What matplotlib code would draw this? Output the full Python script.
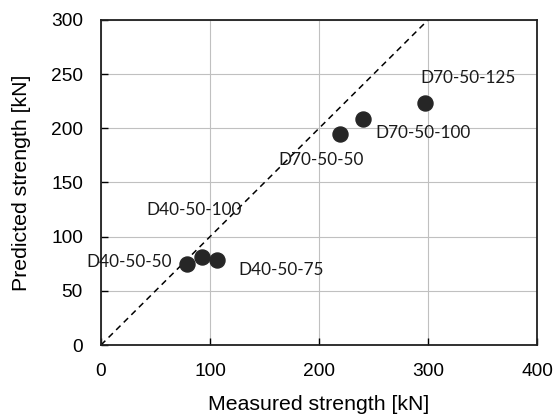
import matplotlib
matplotlib.use("Agg")
import matplotlib.pyplot as plt

measured = [78.5, 92.5, 106, 219, 240, 297]
predicted = [75, 81.5, 78.5, 194.5, 209, 223.5]
labels = ["D40-50-50", "D40-50-100", "D40-50-75", "D70-50-50", "D70-50-100", "D70-50-125"]
label_x = [25.7, 85.8, 165, 202, 295, 337]
label_y = [76.6, 124.6, 69, 171, 196, 246.5]
xticks = [0, 100, 200, 300, 400]
yticks = [0, 50, 100, 150, 200, 250, 300]

fig = plt.figure(figsize=(5.57, 4.19), dpi=100)
ax = fig.add_axes([0.1813, 0.1766, 0.9641 - 0.1813, 0.9523 - 0.1766])
ax.set_xlim(0, 400)
ax.set_ylim(0, 300)
ax.set_xticks(xticks)
ax.set_yticks(yticks)
ax.grid(True, color="#c0c0c0", linewidth=0.8)
ax.set_axisbelow(True)
ax.plot([0, 400], [0, 400], linestyle=(0, (4, 3)), color="black", linewidth=1.1, zorder=2)
ax.scatter(measured, predicted, s=117, color="#262626", zorder=3)
for t, x, y in zip(labels, label_x, label_y):
    ax.text(x, y, t, ha="center", va="center", fontsize=12.3, family="Lato", color="#1a1a1a")
for s in ax.spines.values():
    s.set_linewidth(1.3)
    s.set_color("#202020")
ax.tick_params(direction="in", length=5, width=1, labelsize=13.8, pad=13)
for lab in ax.get_xticklabels() + ax.get_yticklabels():
    lab.set_family("Liberation Sans")
ax.set_xlabel("Measured strength [kN]", fontsize=15.3, family="Liberation Sans", labelpad=11)
ax.set_ylabel("Predicted strength [kN]", fontsize=15.3, family="Liberation Sans", labelpad=14)
fig.savefig("out.png", dpi=100)
